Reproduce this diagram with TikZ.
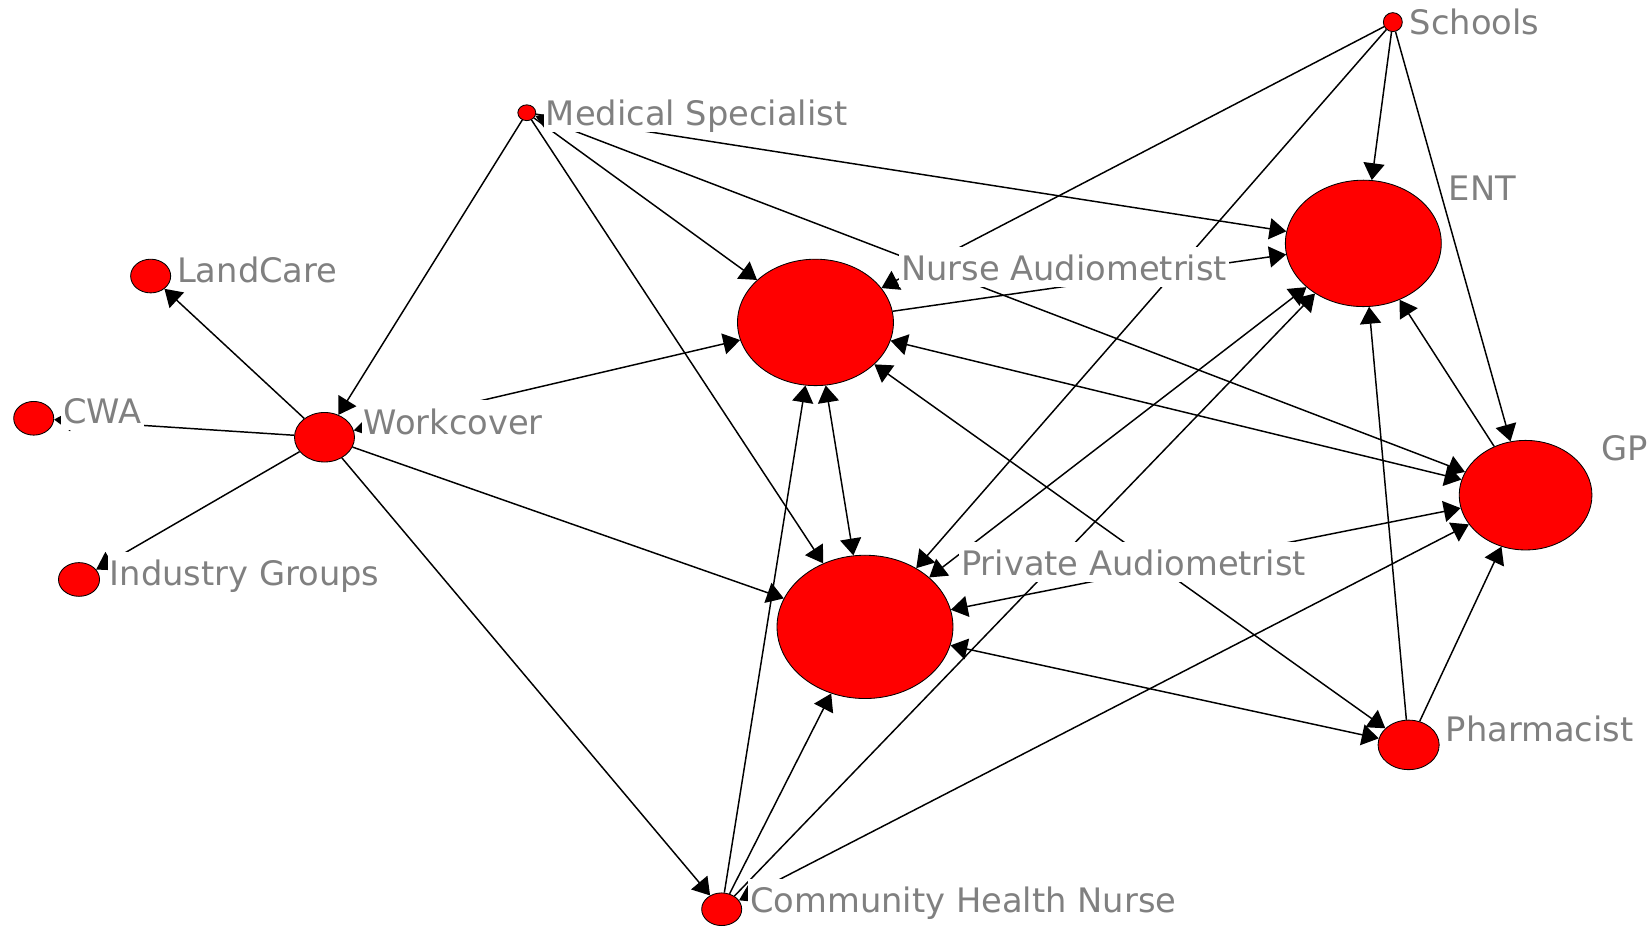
\documentclass[tikz,border=0pt]{standalone}
\usepackage{fontspec}
\newfontfamily\labfont{DejaVu Sans}
\usetikzlibrary{shapes.geometric,arrows.meta}
\definecolor{nodered}{RGB}{255,0,0}
\definecolor{labgray}{RGB}{128,128,128}
\begin{document}
\begin{tikzpicture}[x=1pt,y=-1pt,
  actor/.style={ellipse, draw=black, line width=0.8pt, fill=nodered, inner sep=0pt},
  lab/.style={anchor=base west, fill=white, inner xsep=2pt, inner ysep=0pt,
    text height=32pt, text depth=6pt, text=labgray,
    font=\labfont\fontsize{32}{36}\selectfont},
  link/.style={line width=1.4pt, -{Triangle[length=16pt,width=20pt]}},
  blink/.style={line width=1.4pt, {Triangle[length=16pt,width=20pt]}-{Triangle[length=16pt,width=20pt]}}]

\useasboundingbox (0,0) rectangle (1568,879);
\fill[white] (0,0) rectangle (1568,879);

% nodes
\node[actor, minimum width=18pt, minimum height=18pt] (sch) at (1322,21) {};
\node[actor, minimum width=17pt, minimum height=15pt] (ms) at (500,107) {};
\node[actor, minimum width=38pt, minimum height=32pt] (lc) at (143,262) {};
\node[actor, minimum width=38pt, minimum height=32pt] (cwa) at (32,397) {};
\node[actor, minimum width=57pt, minimum height=47pt] (wc) at (308,415) {};
\node[actor, minimum width=39pt, minimum height=32pt] (ig) at (75,550) {};
\node[actor, minimum width=148pt, minimum height=120pt] (na) at (774,306) {};
\node[actor, minimum width=167pt, minimum height=136pt] (pa) at (821,595) {};
\node[actor, minimum width=148pt, minimum height=120pt] (ent) at (1294,231) {};
\node[actor, minimum width=126pt, minimum height=104pt] (gp) at (1448,470) {};
\node[actor, minimum width=58pt, minimum height=47pt] (ph) at (1337,707) {};
\node[actor, minimum width=38pt, minimum height=31pt] (chn) at (685,863) {};

% edges
\draw[link] (ms) -- (wc);
\draw[link] (ms) -- (na);
\draw[link] (ms) -- (pa);
\draw[link] (ms) -- (ent);
\draw[blink] (ms) -- (gp);
\draw[link] (sch) -- (na);
\draw[link] (sch) -- (pa);
\draw[link] (sch) -- (ent);
\draw[link] (sch) -- (gp);
\draw[link] (wc) -- (lc);
\draw[link] (wc) -- (cwa);
\draw[link] (wc) -- (ig);
\draw[blink] (wc) -- (na);
\draw[link] (wc) -- (pa);
\draw[link] (wc) -- (chn);
\draw[link] (na) -- (ent);
\draw[blink] (na) -- (gp);
\draw[blink] (na) -- (ph);
\draw[blink] (na) -- (pa);
\draw[blink] (pa) -- (ent);
\draw[blink] (pa) -- (gp);
\draw[blink] (pa) -- (ph);
\draw[link] (chn) -- (na);
\draw[link] (chn) -- (pa);
\draw[link] (chn) -- (ent);
\draw[blink] (chn) -- (gp);
\draw[link] (ph) -- (ent);
\draw[link] (ph) -- (gp);
\draw[link] (gp) -- (ent);

% labels
\node[lab] (lsch) at (1336,33) {Schools};
\node[lab] (lms) at (516,119) {Medical Specialist};
\node[lab] (llc) at (166,268) {LandCare};
\node[lab] (lcwa) at (58,402) {CWA};
\node[lab] (lwc) at (343,412) {Workcover};
\node[lab] (lig) at (102,556) {Industry Groups};
\node[lab] (lna) at (853,266) {Nurse Audiometrist};
\node[lab] (lpa) at (910,546) {Private Audiometrist};
\node[lab] (lent) at (1373,190) {ENT};
\node[lab] (lgp) at (1518,437) {GP};
\node[lab] (lph) at (1370,704) {Pharmacist};
\node[lab] (lchn) at (710,866) {Community Health Nurse};
\end{tikzpicture}
\end{document}
